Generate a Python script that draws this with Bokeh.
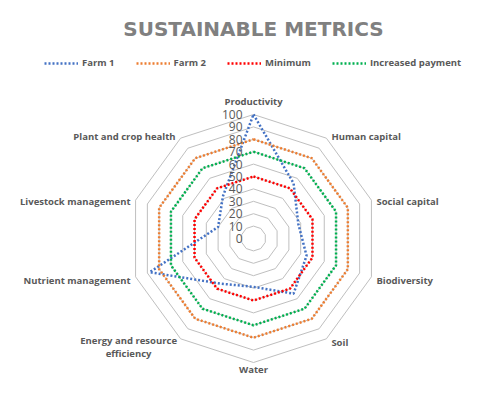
import math
from bokeh.plotting import figure
from bokeh.models import Range1d, Label, Legend, LegendItem, ColumnDataSource
from bokeh.embed import file_html
from bokeh.resources import INLINE
from bokeh.core.properties import value

# ---------------- data ----------------
categories = ["Productivity", "Human capital", "Social capital", "Biodiversity", "Soil",
              "Water", "Energy and resource\nefficiency", "Nutrient management",
              "Livestock management", "Plant and crop health"]
farm1 = [100, 55, 38, 45, 55, 39, 45, 88, 30, 42]
farm2 = [80, 80, 80, 80, 80, 80, 80, 80, 80, 80]
minimum = [50, 50, 50, 50, 50, 50, 50, 50, 50, 50]
increased = [70, 70, 70, 70, 70, 70, 70, 70, 70, 70]
ticks = [0, 10, 20, 30, 40, 50, 60, 70, 80, 90, 100]
series_names = ["Farm 1", "Farm 2", "Minimum", "Increased payment"]
series_colors = ["#4472C4", "#ED7D31", "#FF0000", "#00B050"]

# ---------------- layout ----------------
W, H = 464, 377
PX = 1.24            # pixels per value unit
CX, CY = 253, 238    # chart centre in frame pixels (from top-left)
FONT = "Open Sans"
TXT = "#595959"

p = figure(width=W, height=H, output_backend="svg", toolbar_location=None,
           x_range=Range1d(-CX / PX, (W - CX) / PX),
           y_range=Range1d(-(H - CY) / PX, CY / PX),
           x_axis_type=None, y_axis_type=None, min_border=0)
p.grid.visible = False
p.outline_line_color = None

n = len(categories)
thetas = [math.pi / 2 - 2 * math.pi * i / n for i in range(n)]
cos_t = [math.cos(t) for t in thetas]
sin_t = [math.sin(t) for t in thetas]

# grid decagons
gx, gy = [], []
for t in ticks[1:]:
    gx.append([t * c for c in cos_t] + [t * cos_t[0]])
    gy.append([t * s for s in sin_t] + [t * sin_t[0]])
p.multi_line(gx, gy, line_color="#bfbfbf", line_width=1)

# series
renderers = []
for name, vals, col in zip(series_names, [farm1, farm2, minimum, increased], series_colors):
    xs = [v * c for v, c in zip(vals, cos_t)] + [vals[0] * cos_t[0]]
    ys = [v * s for v, s in zip(vals, sin_t)] + [vals[0] * sin_t[0]]
    r = p.line(xs, ys, line_color=col, line_width=2.5, line_dash="2 2")
    renderers.append(r)

# tick labels along the top spoke
p.text(x=[-11 / PX] * len(ticks), y=ticks, text=[str(t) for t in ticks],
       text_align="right", text_baseline="middle", text_font=value(FONT),
       text_font_size="12px", text_color=TXT)

# category labels
R = 100
lx, ly, la = [], [], []
for i, (c, s) in enumerate(zip(cos_t, sin_t)):
    vx, vy = R * c * PX, R * s * PX
    if abs(c) < 0.1:
        x = 0
        y = vy + (13 if s > 0 else -7)
        a = "center"
    else:
        x = vx + (5 if c > 0 else -5)
        y = vy + (2 if s > 0.5 else -1 if s > 0 else -4)
        a = "left" if c > 0 else "right"
    if "\n" in categories[i]:
        x -= 47
        a = "center"
        y -= 4
    lx.append(x / PX)
    ly.append(y / PX)
    la.append(a)
src = ColumnDataSource(dict(x=lx, y=ly, text=categories, align=la))
p.text(x="x", y="y", text="text", text_align="align", source=src,
       text_baseline="middle", text_font=value(FONT), text_font_size="9.5px",
       text_font_style="bold", text_color=TXT, text_line_height=1.0)

# title
p.add_layout(Label(x=0, y=(CY - 28.5) / PX, text="SUSTAINABLE METRICS", text_align="center",
                   text_baseline="middle", text_font="DejaVu Sans", text_font_size="20px",
                   text_font_style="bold", text_color="#808080"))

# legend
legend = Legend(items=[LegendItem(label=nm, renderers=[r]) for nm, r in zip(series_names, renderers)],
                orientation="horizontal", location=(44, 308), glyph_width=34, glyph_height=12,
                label_height=12, label_standoff=4, spacing=21, padding=0, margin=0,
                background_fill_alpha=0, border_line_alpha=0,
                label_text_font=FONT, label_text_font_size="9.5px",
                label_text_font_style="bold", label_text_color=TXT)
p.add_layout(legend)

open("out.html", "w").write(file_html(p, INLINE))
